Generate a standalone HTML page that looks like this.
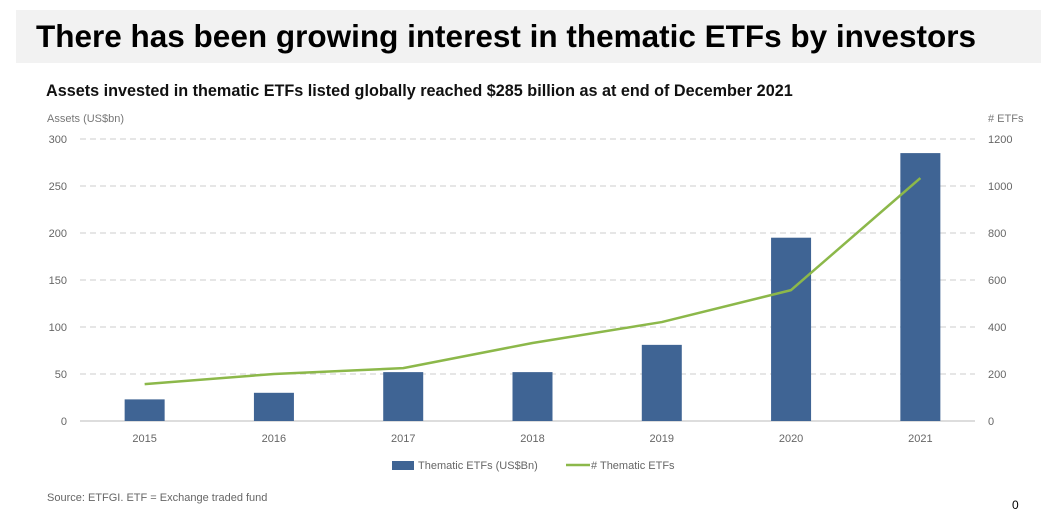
<!DOCTYPE html>
<html><head><meta charset="utf-8"><style>
body{margin:0;width:1050px;height:532px;background:#fff;font-family:"Liberation Sans","Noto Sans CJK JP",sans-serif;overflow:hidden;position:relative}
.t{position:absolute;white-space:nowrap}
</style></head><body>
<div style="position:absolute;left:16px;top:10px;width:1025px;height:53px;background:#f2f2f2"></div>
<div class="t" style="left:36px;top:18px;font-size:31.5px;font-weight:bold;color:#000">There has been growing interest in thematic ETFs by investors</div>
<div class="t" style="left:46px;top:82px;font-size:16.2px;font-weight:bold;color:#111">Assets invested in thematic ETFs listed globally reached $285 billion as at end of December 2021</div>
<svg id="c" width="1050" height="532" style="position:absolute;left:0;top:0"></svg>
<div class="t" style="left:47px;top:492px;font-size:11px;color:#666">Source: ETFGI. ETF = Exchange traded fund</div>
<div class="t" style="left:1012px;top:498px;font-size:12px;color:#000">0</div>
<script>
const categories=["2015","2016","2017","2018","2019","2020","2021"];
const assets=[23,30,52,52,81,195,285];
const etfCount=[157,200,225,332,421,557,1034];
const leftTicks=[0,50,100,150,200,250,300];
const rightTicks=[0,200,400,600,800,1000,1200];
const svg=document.getElementById('c');const NS='http://www.w3.org/2000/svg';
function mk(t,a,txt){const e=document.createElementNS(NS,t);for(const k in a)e.setAttribute(k,a[k]);if(txt!==undefined)e.textContent=txt;svg.appendChild(e);return e;}
const x0=80,x1=985,yTop=139,yBot=421;
const band=(x1-x0)/categories.length;
const xc=i=>x0+band*(i+0.5);
const yL=v=>yBot-(v/300)*(yBot-yTop);
const yR=v=>yBot-(v/1200)*(yBot-yTop);
leftTicks.forEach((v,i)=>{
 const y=yL(v);
 const g=mk('line',{x1:x0,x2:975,y1:y,y2:y,stroke:v===0?'#bbb':'#ccc','stroke-dasharray':v===0?'':'6,4'});
 
 
 const l=mk('text',{x:67,y:y+4,'text-anchor':'end','font-size':11,fill:'#666','font-family':'Liberation Sans'},v);
 
 
});
rightTicks.forEach(v=>{
 const r=mk('text',{x:988,y:yR(v)+4,'font-size':11,fill:'#666','font-family':'Liberation Sans'},v);
 
 
});
const a1=mk('text',{x:47,y:122,'font-size':11,fill:'#777','font-family':'Liberation Sans'},'Assets (US$bn)');


const a2=mk('text',{x:988,y:122,'font-size':11,fill:'#777','font-family':'Liberation Sans'},'# ETFs');


categories.forEach((c,i)=>{
 const b=mk('rect',{x:xc(i)-20,y:yL(assets[i]),width:40,height:yBot-yL(assets[i]),fill:'#3f6494'});
 
 
 const t=mk('text',{x:xc(i),y:442,'text-anchor':'middle','font-size':11,fill:'#666','font-family':'Liberation Sans'},c);
 
 
});
const pts=etfCount.map((v,i)=>xc(i)+','+yR(v)).join(' ');
const ln=mk('polyline',{points:pts,fill:'none',stroke:'#8cb84a','stroke-width':2.5,'stroke-linejoin':'round'});


const lb=mk('rect',{x:392,y:461,width:22,height:9,fill:'#3f6494'});


const lt=mk('text',{x:418,y:469,'font-size':11,fill:'#666','font-family':'Liberation Sans'},'Thematic ETFs (US$Bn)');


const ll=mk('line',{x1:566,x2:590,y1:465,y2:465,stroke:'#8cb84a','stroke-width':2.5});


const lt2=mk('text',{x:591,y:469,'font-size':11,fill:'#666','font-family':'Liberation Sans'},'# Thematic ETFs');


</script>
</body></html>
